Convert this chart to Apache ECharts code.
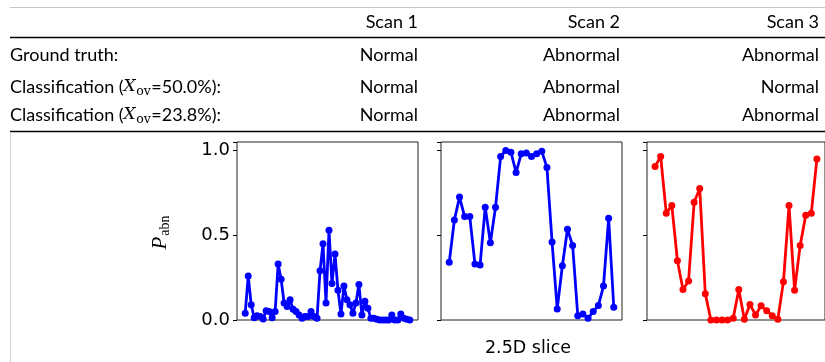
<!DOCTYPE html>
<html>
<head>
<meta charset="utf-8">
<script src="https://cdn.jsdelivr.net/npm/echarts@6/dist/echarts.min.js"></script>
<style>
html, body { margin: 0; padding: 0; background: #fff; }
#chart { width: 825px; height: 362px; }
</style>
</head>
<body>
<div id="chart"></div>
<script>
// table content
const scanNames = ['Scan 1', 'Scan 2', 'Scan 3']
const groundTruth = ['Normal', 'Abnormal', 'Abnormal']
const classification50 = ['Normal', 'Abnormal', 'Normal']
const classification238 = ['Normal', 'Abnormal', 'Abnormal']
const overlapLevels = ['50.0%', '23.8%']

// P_abn per 2.5D slice
const scan1 = [0.04, 0.26, 0.09, 0.013, 0.025, 0.02, 0.006, 0.055, 0.05, 0.014,
    0.05, 0.33, 0.24, 0.10, 0.08, 0.12, 0.063, 0.05, 0.03, 0.01,
    0.02, 0.02, 0.05, 0.02, 0.01, 0.29, 0.45, 0.10, 0.53, 0.215,
    0.39, 0.175, 0.035, 0.20, 0.12, 0.09, 0.04, 0.10, 0.21, 0.03,
    0.11, 0.07, 0.01, 0.01, 0.005, 0, 0, 0, 0, 0.03,
    0, 0, 0.035, 0.01, 0.005, 0]
const scan2 = [0.34, 0.59, 0.725, 0.61, 0.61, 0.33, 0.325, 0.665, 0.455, 0.665,
    0.965, 1.0, 0.99, 0.87, 0.98, 0.985, 0.965, 0.98, 0.995, 0.90,
    0.46, 0.065, 0.32, 0.535, 0.44, 0.025, 0.035, 0.01, 0.05, 0.085,
    0.20, 0.60, 0.075]
const scan3 = [0.905, 0.965, 0.63, 0.675, 0.35, 0.18, 0.23, 0.695, 0.775, 0.155,
    0, 0, 0, 0, 0.01, 0.18, 0.005, 0.092, 0.03, 0.084,
    0.055, 0.025, 0.005, 0.225, 0.675, 0.176, 0.44, 0.618, 0.63, 0.95]

const scans = [scan1, scan2, scan3]
const lineColors = ['#0000ff', '#0000ff', '#ff0000']
const panelLefts = [237, 441, 647]
const colRights = [418, 620, 819]

const tableFont = 'Lato'
const tableSize = 18

const ctx = document.createElement('canvas').getContext('2d')
const measure = (text, font) => { ctx.font = font; return ctx.measureText(text).width }

const graphic = []

const hline = (y, x1, x2, color, w) => graphic.push({
    type: 'line', silent: true,
    shape: { x1, y1: y, x2, y2: y },
    style: { stroke: color, lineWidth: w }
})
const txt = (text, x, y, opts) => graphic.push({
    type: 'text', silent: true, x, y,
    style: Object.assign({ text, fill: '#000', fontFamily: tableFont, fontSize: tableSize, verticalAlign: 'middle', align: 'left' }, opts)
})

// table rules
hline(7.5, 10, 825, '#c4c4c4', 1)
hline(37.5, 10, 825, '#000', 1.3)
hline(131.5, 10, 825, '#000', 1.3)
graphic.push({
    type: 'line', silent: true,
    shape: { x1: 10.5, y1: 132, x2: 10.5, y2: 362 },
    style: { stroke: '#d0d0d0', lineWidth: 1 }
})

const rowY = [55, 87, 115]
const labelX = 10

scanNames.forEach((s, i) => txt(s, colRights[i], 22, { align: 'right' }))
txt('Ground truth:', labelX, rowY[0])
overlapLevels.forEach((lvl, k) => {
    const y = rowY[k + 1]
    const pre = 'Classification ('
    let x = labelX
    txt(pre, x, y)
    x += measure(pre, `${tableSize}px ${tableFont}`)
    txt('X', x, y, { fontFamily: 'DejaVu Serif', fontStyle: 'italic', fontSize: 17 })
    x += measure('X', 'italic 17px DejaVu Serif') + 0.5
    txt('ov', x, y + 4.5, { fontFamily: 'DejaVu Serif', fontSize: 12.5 })
    x += measure('ov', '12.5px DejaVu Serif') + 0.5
    txt('=' + lvl + '):', x, y)
})
const rows = [groundTruth, classification50, classification238]
rows.forEach((row, r) => row.forEach((v, i) => txt(v, colRights[i], rowY[r], { align: 'right' })))

// y-axis title P_abn (rotated)
{
    const pFont = 'italic 21px Liberation Serif'
    const sFont = '14px Liberation Serif'
    const wP = measure('P', pFont), wS = measure('abn', sFont)
    const x0 = -(wP + wS) / 2
    graphic.push({
        type: 'group', x: 160, y: 233, rotation: Math.PI / 2, silent: true,
        children: [
            { type: 'text', x: x0, y: 0, style: { text: 'P', fill: '#000', fontFamily: 'Liberation Serif', fontStyle: 'italic', fontSize: 21, verticalAlign: 'middle' } },
            { type: 'text', x: x0 + wP + 1, y: 5, style: { text: 'abn', fill: '#000', fontFamily: 'Liberation Serif', fontSize: 14, verticalAlign: 'middle' } }
        ]
    })
}
// x-axis title
txt('2.5D slice', 528, 348, { align: 'center', fontFamily: 'DejaVu Sans', fontSize: 17.5 })

const grids = [], xAxes = [], yAxes = [], series = []
scans.forEach((data, i) => {
    const n = data.length
    grids.push({ left: panelLefts[i], top: 142, width: 181, height: 178, show: true, borderColor: '#222', borderWidth: 1, backgroundColor: 'transparent' })
    xAxes.push({
        gridIndex: i, type: 'value', min: -0.05 * (n - 1), max: 1.05 * (n - 1),
        axisLine: { show: false, onZero: false }, axisTick: { show: false }, axisLabel: { show: false }, splitLine: { show: false }
    })
    yAxes.push({
        gridIndex: i, type: 'value', min: 0, max: 1.05, interval: 0.5,
        axisLine: { show: false, onZero: false },
        axisTick: { show: true, length: 4, lineStyle: { color: '#000', width: 1 } },
        axisLabel: {
            show: i === 0, margin: 7,
            color: '#000', fontFamily: 'DejaVu Sans', fontSize: 18,
            formatter: v => (Math.abs(v / 0.5 - Math.round(v / 0.5)) < 1e-6 ? v.toFixed(1) : '')
        },
        splitLine: { show: false }
    })
    series.push({
        type: 'line', xAxisIndex: i, yAxisIndex: i,
        data: data.map((v, k) => [k, v]),
        symbol: 'circle', symbolSize: 7, showAllSymbol: true,
        lineStyle: { color: lineColors[i], width: 2.8 },
        itemStyle: { color: lineColors[i] },
        emphasis: { disabled: true }
    })
})

const chart = echarts.init(document.getElementById('chart'))
chart.setOption({
    animation: false,
    grid: grids,
    xAxis: xAxes,
    yAxis: yAxes,
    series,
    graphic
})
</script>
</body>
</html>
